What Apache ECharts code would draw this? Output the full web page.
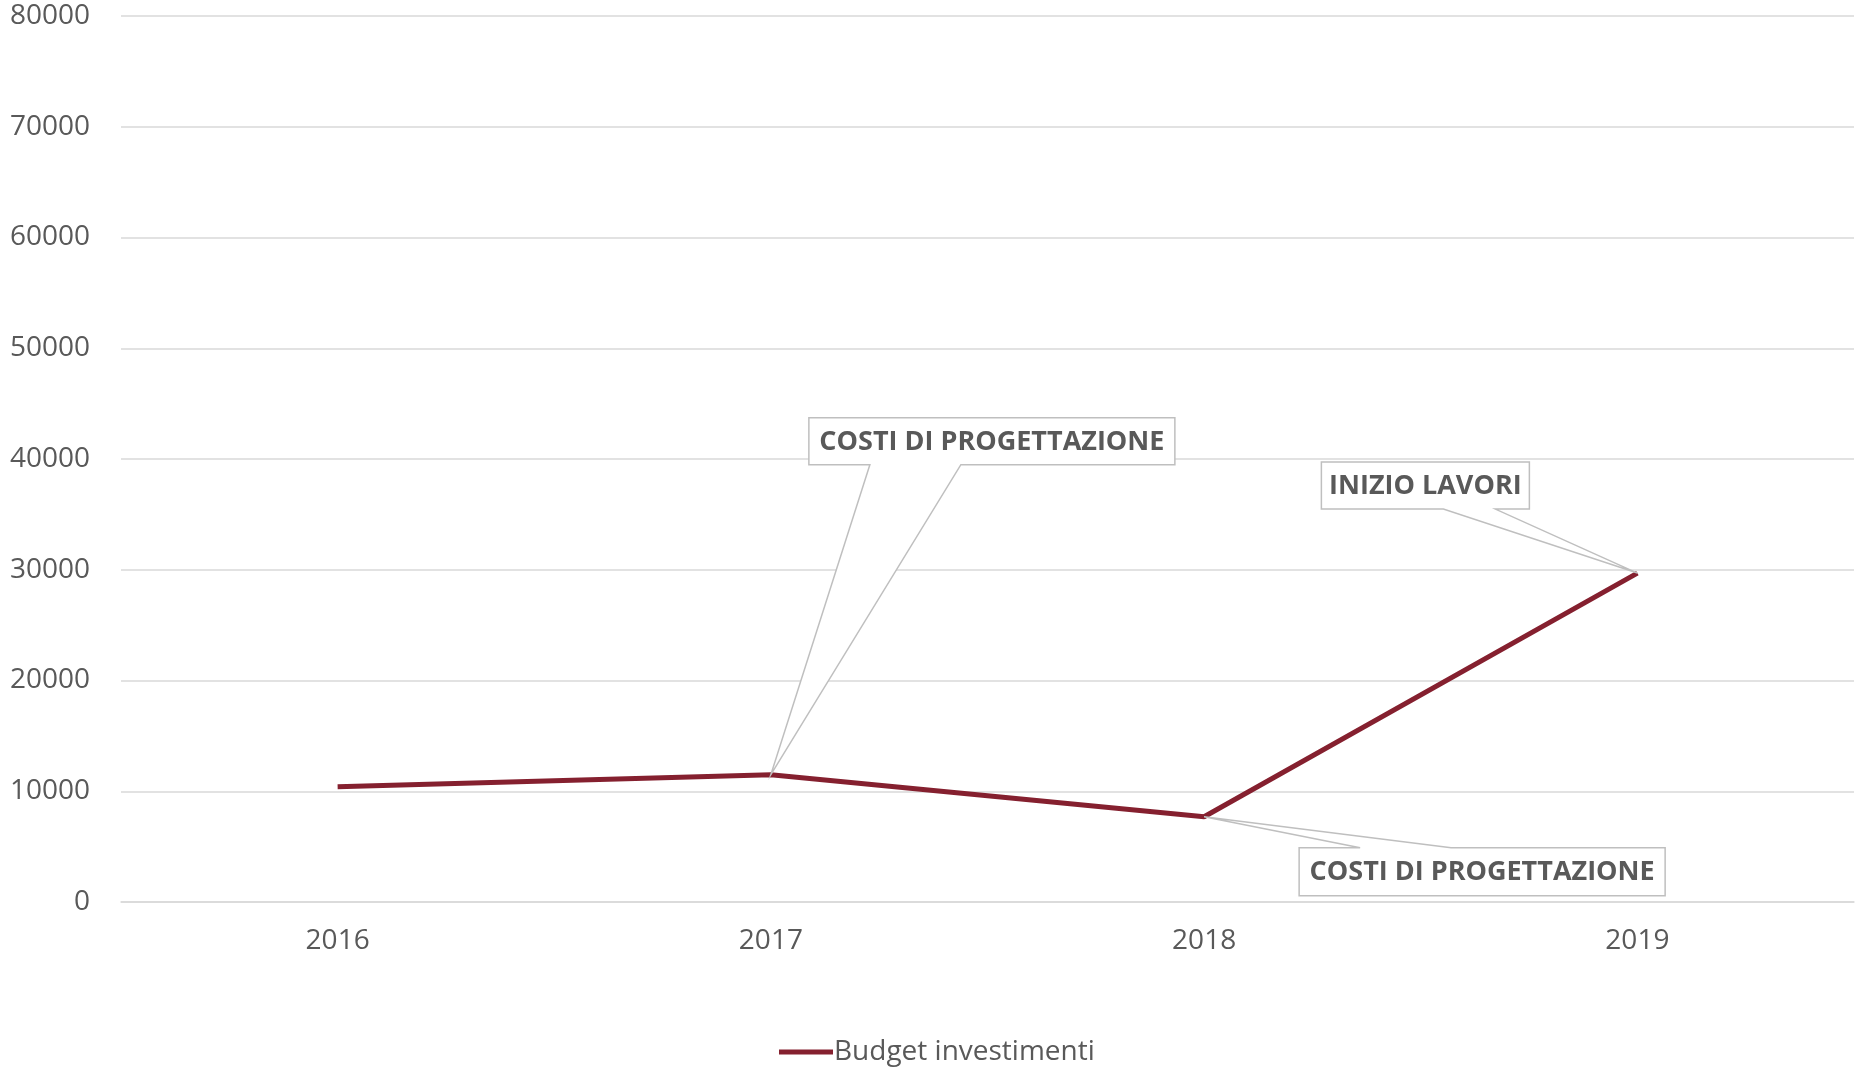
<!DOCTYPE html>
<html>
<head>
<meta charset="utf-8">
<script src="https://cdn.jsdelivr.net/npm/echarts@6/dist/echarts.min.js"></script>
<style>
html,body{margin:0;padding:0;background:#fff;}
#chart{width:1856px;height:1069px;}
</style>
</head>
<body>
<div id="chart"></div>
<script>
// ---- data ----
const years = ['2016', '2017', '2018', '2019'];
const budget = [10400, 11500, 7700, 29700];
const seriesName = 'Budget investimenti';
const yMin = 0, yMax = 80000, yStep = 10000;
const annotIndex = [1, 3, 2];
const annotText = ['COSTI DI PROGETTAZIONE', 'INIZIO LAVORI', 'COSTI DI PROGETTAZIONE'];

// ---- layout of callouts (offsets from the anchored point) ----
const calloutLayout = [
  {dx: 38, dy: -357, w: 366, h: 47, b1: 61, b2: 152, below: false},
  {dx: -316, dy: -111, w: 208, h: 47, b1: 122, b2: 174, below: false},
  {dx: 95, dy: 31, w: 366, h: 48, b1: 61, b2: 152, below: true}
];

const TEXT = '#595959';
const FONT = '"Open Sans", "Liberation Sans", sans-serif';

const chart = echarts.init(document.getElementById('chart'), null, {renderer: 'canvas'});
chart.setOption({
  animation: false,
  backgroundColor: '#ffffff',
  grid: {left: 121, right: 2, top: 16, bottom: 167, containLabel: false},
  legend: {
    data: [{name: seriesName, icon: 'rect'}],
    left: 774, top: 1033,
    itemWidth: 54, itemHeight: 5, itemGap: 10,
    textStyle: {color: TEXT, fontSize: 28, fontFamily: FONT, padding: [0, 0, 0, -4]}
  },
  xAxis: {
    type: 'category',
    data: years,
    boundaryGap: true,
    axisLine: {show: true, lineStyle: {color: '#d9d9d9', width: 1.5}},
    axisTick: {show: false},
    axisLabel: {color: TEXT, fontSize: 28, fontFamily: FONT, margin: 25}
  },
  yAxis: {
    type: 'value',
    min: yMin, max: yMax, interval: yStep,
    axisLine: {show: false},
    axisTick: {show: false},
    splitLine: {lineStyle: {color: '#d9d9d9', width: 1.5}},
    axisLabel: {color: TEXT, fontSize: 28, fontFamily: FONT, margin: 31,
      formatter: v => String(v)}
  },
  series: [{
    name: seriesName,
    type: 'line',
    data: budget,
    symbol: 'none',
    lineStyle: {color: '#85202F', width: 5},
    itemStyle: {color: '#85202F'},
    z: 2
  }]
});

// ---- callouts anchored to data points ----
const graphics = [];
annotIndex.forEach((idx, k) => {
  const p = chart.convertToPixel({seriesIndex: 0}, [idx, budget[idx]]);
  const L = calloutLayout[k];
  const x0 = p[0] + L.dx, y0 = p[1] + L.dy, x1 = x0 + L.w, y1 = y0 + L.h;
  let pts;
  if (!L.below) {
    pts = [[x0, y0], [x1, y0], [x1, y1], [x0 + L.b2, y1], [p[0], p[1]], [x0 + L.b1, y1], [x0, y1]];
  } else {
    pts = [[x0, y0], [x0 + L.b1, y0], [p[0], p[1]], [x0 + L.b2, y0], [x1, y0], [x1, y1], [x0, y1]];
  }
  graphics.push({
    type: 'polygon', z: 100,
    shape: {points: pts},
    style: {fill: '#ffffff', stroke: '#bfbfbf', lineWidth: 1.5}
  });
  graphics.push({
    type: 'text', z: 101,
    x: (x0 + x1) / 2, y: (y0 + y1) / 2 + 1,
    style: {
      text: annotText[k], fill: TEXT, align: 'center', verticalAlign: 'middle',
      fontSize: 27, fontWeight: 'bold', fontFamily: FONT
    }
  });
});
chart.setOption({graphic: graphics});
</script>
</body>
</html>
